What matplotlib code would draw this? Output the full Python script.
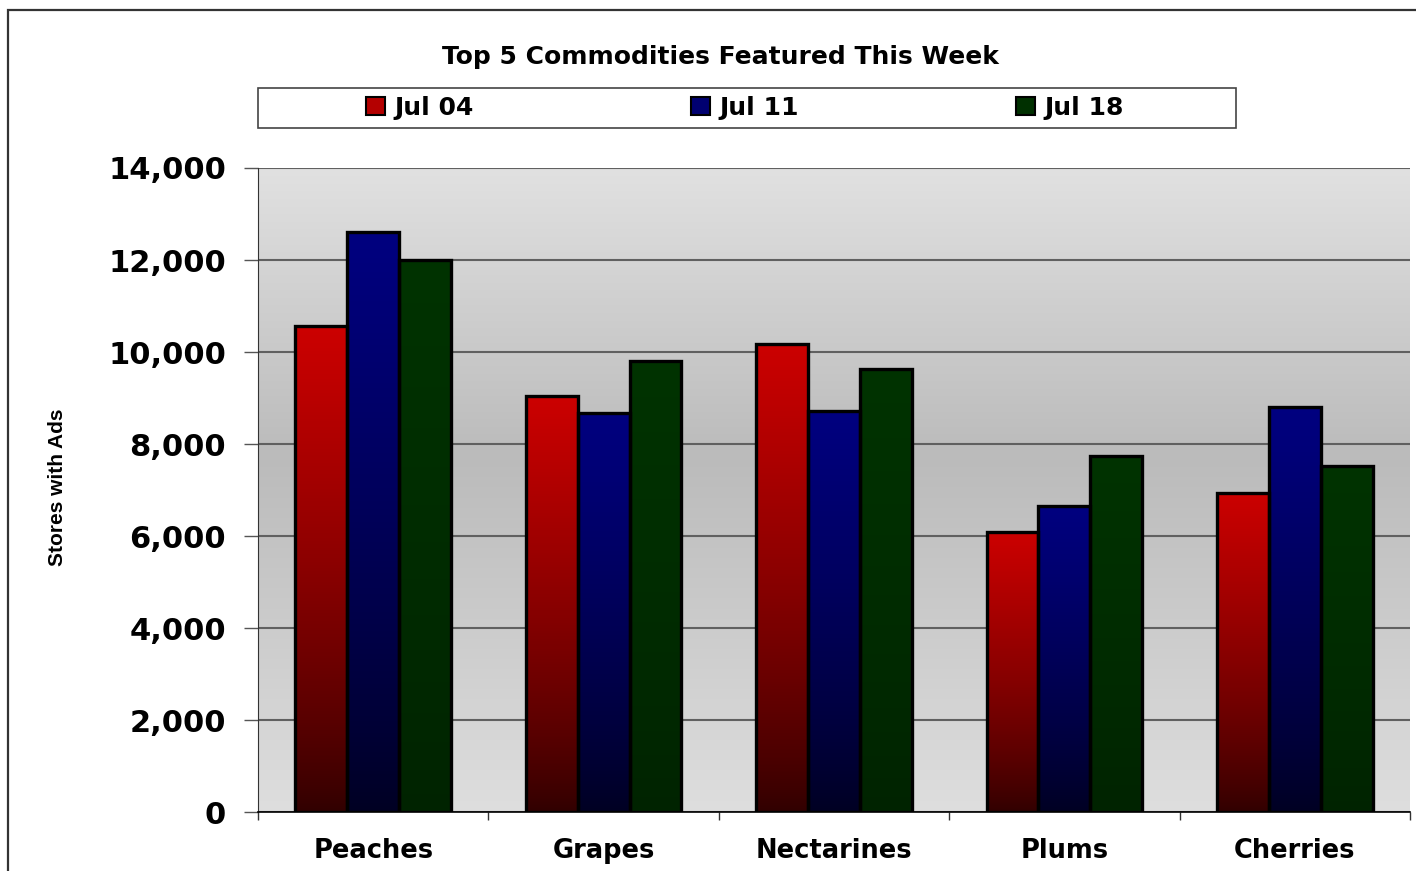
import numpy as np
import matplotlib
matplotlib.use("Agg")
import matplotlib.pyplot as plt
from matplotlib.colors import LinearSegmentedColormap
from matplotlib.patches import Rectangle, Patch
from matplotlib.ticker import FuncFormatter, MultipleLocator

# Data
commodities = ["Peaches", "Grapes", "Nectarines", "Plums", "Cherries"]
weeks = ["Jul 04", "Jul 11", "Jul 18"]
jul04 = [10560, 9050, 10180, 6080, 6940]
jul11 = [12610, 8680, 8710, 6660, 8800]
jul18 = [12000, 9800, 9640, 7740, 7520]
series = [jul04, jul11, jul18]

# gradient colours (top, bottom) per series
grad = [("#cc0000", "#300000"), ("#000080", "#000022"), ("#003300", "#002300")]
legend_colors = ["#b40000", "#000070", "#003000"]

W, H = 1416, 871
fig = plt.figure(figsize=(W / 100, H / 100), dpi=100)
ax = fig.add_axes([258 / W, 1 - 812 / H, (1410 - 258) / W, (812 - 168) / H])

ymax = 14000
n = len(commodities)
x = np.arange(n)
width = 0.225

# plot background: light at top and bottom, darker in the middle
bg = LinearSegmentedColormap.from_list("bg", [(0, "#dedede"), (0.55, "#bbbbbb"), (1, "#e1e1e1")])
ax.imshow(np.linspace(0, 1, 256).reshape(-1, 1), cmap=bg, aspect="auto",
          extent=[-0.5, n - 0.5, 0, ymax], zorder=0, origin="lower")

ramp = (np.linspace(0, 1, 256) ** 0.8).reshape(-1, 1)
for i, vals in enumerate(series):
    cm = LinearSegmentedColormap.from_list(f"s{i}", [grad[i][1], grad[i][0]])
    bars = ax.bar(x + (i - 1) * width, vals, width, facecolor="none",
                  edgecolor="black", linewidth=2.4, zorder=3)
    for b in bars:
        im = ax.imshow(ramp, cmap=cm, vmin=0, vmax=1, aspect="auto", origin="lower",
                       extent=[b.get_x(), b.get_x() + b.get_width(), 0, b.get_height()],
                       zorder=2)
        im.set_clip_path(b)

ax.set_xlim(-0.5, n - 0.5)
ax.set_ylim(0, ymax)

ax.yaxis.set_major_locator(MultipleLocator(2000))
ax.yaxis.set_major_formatter(FuncFormatter(lambda v, p: f"{int(v):,}"))
ax.set_axisbelow(True)
ax.yaxis.grid(True, color="#606060", linewidth=1.5)
ax.tick_params(axis="y", length=10, width=1, color="#555555", pad=13,
               labelsize=22)
for t in ax.get_yticklabels():
    t.set_fontweight("bold")

ax.set_xticks(x)
ax.set_xticklabels(commodities, fontsize=18.5, fontweight="bold")
ax.set_xticks(np.arange(-0.5, n), minor=True)
ax.tick_params(axis="x", which="major", length=0, pad=19)
ax.tick_params(axis="x", which="minor", length=6, width=1, color="#333333")

for s in ["top", "right"]:
    ax.spines[s].set_visible(False)
ax.spines["left"].set_color("#333333")
ax.spines["bottom"].set_color("black")
ax.spines["bottom"].set_linewidth(1.2)

fig.text(58 / W, 1 - 487 / H, "Stores with Ads", rotation=90, ha="center", va="center",
         fontsize=15, fontweight="bold", family=["Liberation Sans", "DejaVu Sans"])

fig.text(720 / W, 1 - 57 / H, "Top 5 Commodities Featured This Week",
         ha="center", va="center", fontsize=18, fontweight="bold")

# legend box
fig.add_artist(Rectangle((258 / W, 1 - 128 / H), (1236 - 258) / W, 40 / H,
                         transform=fig.transFigure, fill=False, edgecolor="#444444",
                         linewidth=1.2))
for i, (label, c) in enumerate(zip(weeks, legend_colors)):
    leg = fig.legend([Patch(facecolor=c, edgecolor="black", linewidth=1.5)], [label],
                     loc="center left", frameon=False,
                     bbox_to_anchor=((366 + 325 * i) / W, 1 - 108 / H),
                     prop={"size": 18, "weight": "bold"}, handlelength=0.75,
                     handleheight=0.75, handletextpad=0.4, borderaxespad=0, borderpad=0)

# outer chart frame
fig.add_artist(Rectangle((8 / W, -0.05), 1.2, 1.05 - 10 / H, transform=fig.transFigure,
                         fill=False, edgecolor="#333333", linewidth=1.6))

fig.savefig("out.png", dpi=100)
